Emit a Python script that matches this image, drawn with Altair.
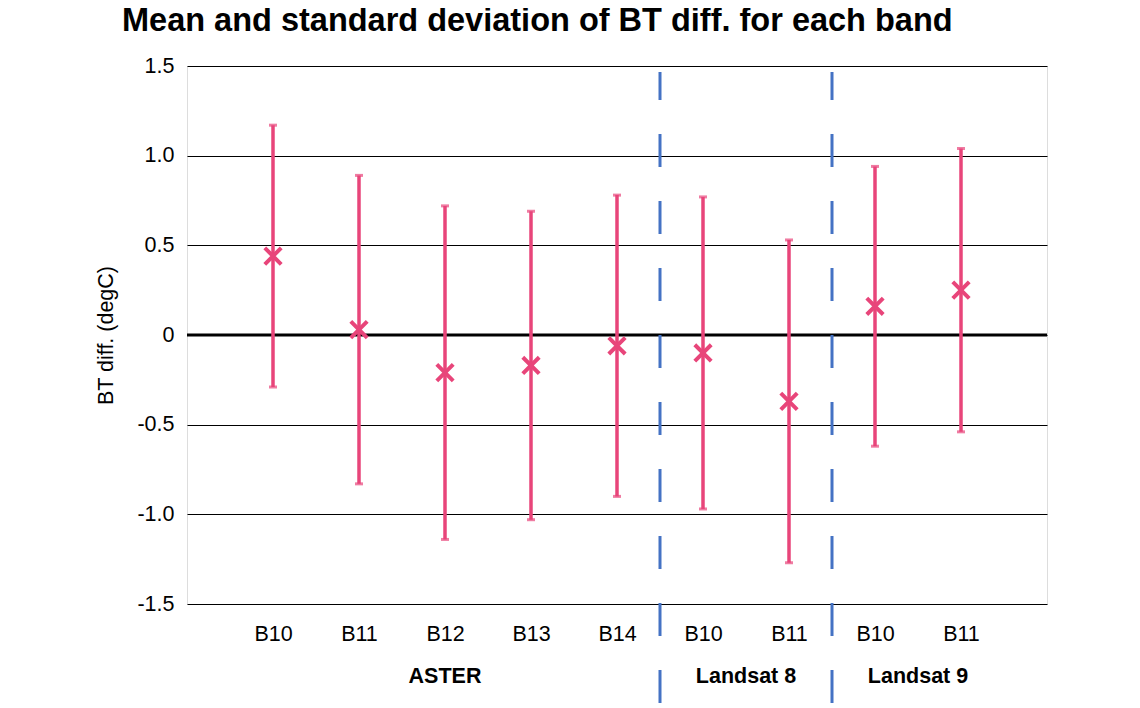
import altair as alt
import pandas as pd

# ---- data ----
bands = ["B10", "B11", "B12", "B13", "B14", "B10", "B11", "B10", "B11"]
sensors = ["ASTER"] * 5 + ["Landsat 8"] * 2 + ["Landsat 9"] * 2
means = [0.44, 0.03, -0.21, -0.17, -0.06, -0.10, -0.37, 0.16, 0.25]
stds = [0.73, 0.86, 0.93, 0.86, 0.84, 0.87, 0.90, 0.78, 0.79]
y_ticks = [-1.5, -1.0, -0.5, 0.0, 0.5, 1.0, 1.5]

PINK = "#E8457A"
BLUE = "#4472C4"
FONT = "Liberation Sans"
FS = 21.5

positions = list(range(1, len(bands) + 1))
df = pd.DataFrame({
    "pos": positions,
    "band": bands,
    "sensor": sensors,
    "mean": means,
    "lo": [m - s for m, s in zip(means, stds)],
    "hi": [m + s for m, s in zip(means, stds)],
})

# group centres and dividers derived from the categories
group_names = []
for s in sensors:
    if s not in group_names:
        group_names.append(s)
group_pos = [sum(p for p, s in zip(positions, sensors) if s == g) /
             sum(1 for s in sensors if s == g) for g in group_names]
groups_df = pd.DataFrame({"sensor": group_names, "pos": group_pos})
dividers = []
for i in range(1, len(sensors)):
    if sensors[i] != sensors[i - 1]:
        dividers.append(positions[i] - 0.5)
div_df = pd.DataFrame({"pos": dividers})
zero_df = pd.DataFrame({"y": [0.0]})

W, H = 860, 538
label_arr = "[" + ",".join("'" + b + "'" for b in bands) + "]"

x_scale = alt.Scale(domain=[0, len(bands) + 1], nice=False, zero=False)
y_scale = alt.Scale(domain=[-1.5, 1.5], nice=False, zero=False)

x_axis = alt.Axis(values=positions, labelExpr=label_arr + "[datum.value - 1]",
                  grid=False, ticks=False, domain=False, title=None,
                  labelFontSize=FS, labelColor="black", labelPadding=19,
                  labelFont=FONT)
y_axis = alt.Axis(values=y_ticks,
                  labelExpr="datum.value == 0 ? '0' : (datum.value < 0 ? '-' : '') + format(abs(datum.value), '.1f')",
                  grid=True, gridColor="black", gridWidth=1, ticks=False, domain=False,
                  labelFontSize=FS, labelColor="black", labelPadding=13, labelFont=FONT,
                  title="BT diff. (degC)", titleFontSize=FS, titleFontWeight="normal",
                  titleColor="black", titleFont=FONT, titleAngle=270,
                  titleX=-81, titleY=H / 2, titleAlign="center", titleBaseline="middle")

base = alt.Chart(df)

bars = base.mark_rule(color=PINK, strokeWidth=3.5).encode(
    x=alt.X("pos:Q", scale=x_scale, axis=x_axis),
    y=alt.Y("lo:Q", scale=y_scale, axis=y_axis),
    y2="hi:Q",
)
cap_hi = base.mark_tick(color=PINK, orient="horizontal", size=8, thickness=3).encode(
    x="pos:Q", y="hi:Q")
cap_lo = base.mark_tick(color=PINK, orient="horizontal", size=8, thickness=3).encode(
    x="pos:Q", y="lo:Q")
pts = base.mark_point(shape="M-1,-1L1,1M-1,1L1,-1", filled=False, color=PINK,
                      strokeWidth=4, size=270, opacity=1).encode(
    x="pos:Q", y="mean:Q")

zero = alt.Chart(zero_df).mark_rule(color="black", strokeWidth=3).encode(
    y="y:Q", x=alt.value(0), x2=alt.value(W))

divs = alt.Chart(div_df).mark_rule(color=BLUE, strokeWidth=3, strokeDash=[33, 34],
                                   strokeDashOffset=5).encode(
    x="pos:Q", y=alt.value(6), y2=alt.value(642))

grp = alt.Chart(groups_df).mark_text(fontSize=FS, fontWeight="bold", font=FONT,
                                     color="black", baseline="middle").encode(
    x="pos:Q", y=alt.value(610.5), text="sensor:N")

chart = alt.layer(zero, divs, bars, cap_hi, cap_lo, pts, grp).properties(
    width=W, height=H,
    autosize=alt.AutoSizeParams(type="none"),
    padding={"left": 179, "top": 58, "right": 85, "bottom": 104},
    title=alt.TitleParams("Mean and standard deviation of BT diff. for each band",
                          fontSize=32.5, fontWeight="bold", font=FONT, color="black",
                          anchor="start", frame="group", dx=-65, offset=18),
).configure_view(stroke=None).configure(background="white")

chart.save("out.html", embed_options={"renderer": "svg", "actions": False})
